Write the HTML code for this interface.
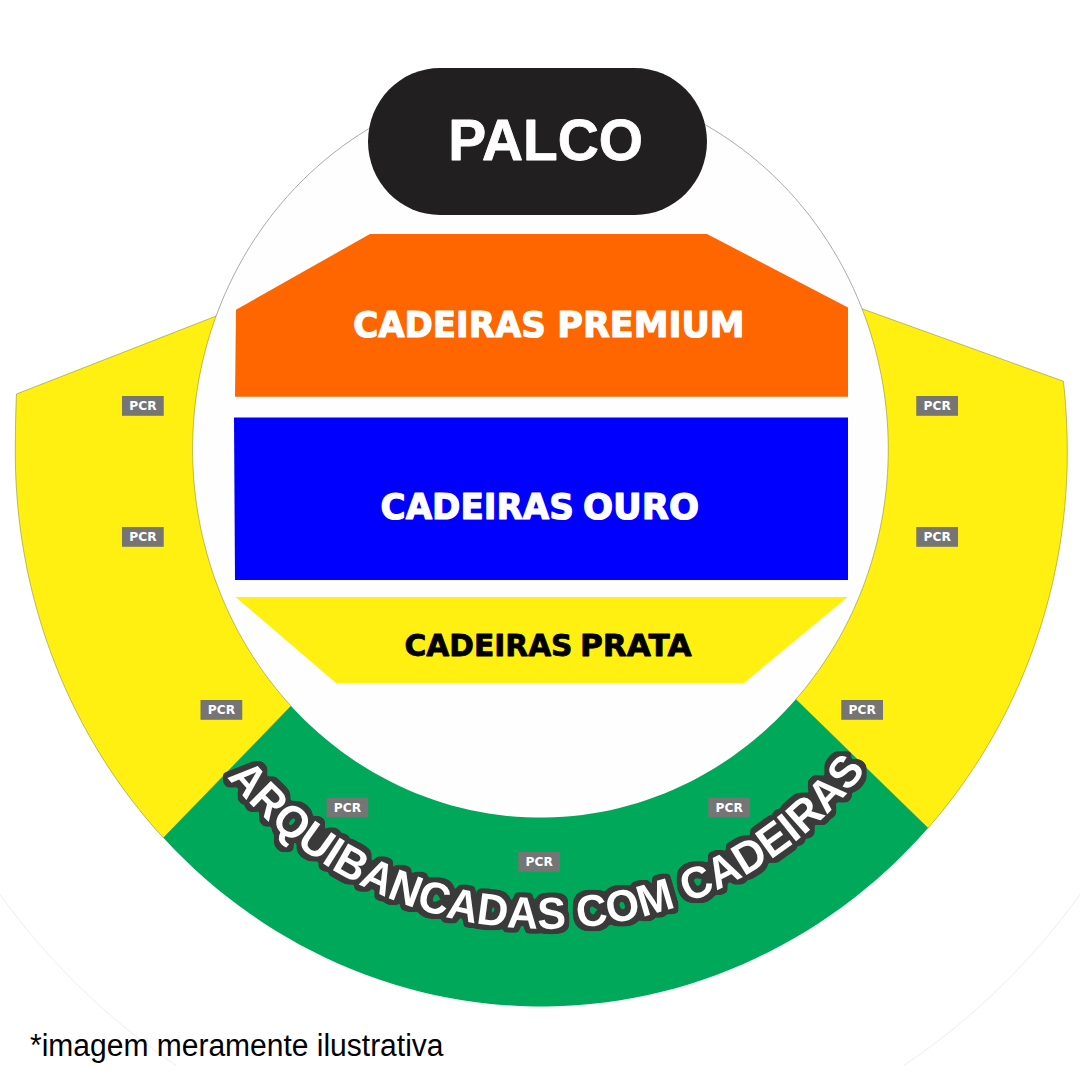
<!DOCTYPE html>
<html lang="pt-BR">
<head>
<meta charset="utf-8">
<title>Mapa de setores</title>
<style>
html,body{margin:0;padding:0;background:#fff;}
body{width:1080px;height:1080px;overflow:hidden;font-family:"Liberation Sans",sans-serif;}
svg{display:block;}
.lbl{font-family:"DejaVu Sans","Liberation Sans",sans-serif;font-weight:bold;}
.lw{fill:#fff;stroke:#fff;stroke-width:1.2px;stroke-linejoin:round;}
.lk{fill:#000;stroke:#000;stroke-width:0.8px;stroke-linejoin:round;}
.pcr{font-family:"DejaVu Sans","Liberation Sans",sans-serif;font-weight:bold;font-size:12.2px;fill:#fff;}
.arc{font-family:"Liberation Sans",sans-serif;font-weight:bold;font-size:44.6px;fill:#fff;filter:url(#ol);}

</style>
</head>
<body>
<svg width="1080" height="1080" viewBox="0 0 1080 1080">
<rect width="1080" height="1080" fill="#ffffff"/>
<path d="M-2.00 891.86 L3.93 900.01 L9.87 907.94 L15.80 915.65 L21.73 923.14 L27.67 930.43 L33.60 937.54 L39.53 944.46 L45.47 951.20 L51.40 957.78 L57.33 964.19 L63.27 970.45 L69.20 976.56 L75.13 982.52 L81.07 988.35 L87.00 994.03 L92.93 999.59 L98.87 1005.01 L104.80 1010.32 L110.73 1015.50 L116.67 1020.56 L122.60 1025.52 L128.53 1030.36 L134.47 1035.09 L140.40 1039.71 L146.33 1044.23 L152.27 1048.66 L158.20 1052.98 L164.13 1057.20 L170.07 1061.33 L176.00 1065.37" fill="none" stroke="#e8e8e8" stroke-width="0.8"/>
<path d="M904.00 1065.37 L909.93 1061.33 L915.87 1057.20 L921.80 1052.98 L927.73 1048.66 L933.67 1044.23 L939.60 1039.71 L945.53 1035.09 L951.47 1030.36 L957.40 1025.52 L963.33 1020.56 L969.27 1015.50 L975.20 1010.32 L981.13 1005.01 L987.07 999.59 L993.00 994.03 L998.93 988.35 L1004.87 982.52 L1010.80 976.56 L1016.73 970.45 L1022.67 964.19 L1028.60 957.78 L1034.53 951.20 L1040.47 944.46 L1046.40 937.54 L1052.33 930.43 L1058.27 923.14 L1064.20 915.65 L1070.13 907.94 L1076.07 900.01 L1082.00 891.86" fill="none" stroke="#e8e8e8" stroke-width="0.8"/>
<ellipse cx="540.44" cy="449.18" rx="347.82" ry="368.45" fill="#fefefe"/>
<path d="M216.12 316.05 L220.00 305.88 L224.17 295.85 L228.62 285.95 L233.34 276.19 L238.34 266.59 L243.60 257.14 L249.12 247.87 L254.91 238.78 L260.94 229.87 L267.23 221.16 L273.76 212.65 L280.52 204.35 L287.51 196.26 L294.73 188.40 L302.16 180.77 L309.81 173.38 L317.66 166.23 L325.70 159.33 L333.94 152.69 L342.36 146.32 L350.95 140.21 L359.72 134.37 L368.64 128.81 L377.72 123.54 L386.94 118.55 L396.29 113.86 L405.77 109.47 L415.38 105.37 L425.09 101.58 L434.90 98.10 L444.81 94.93 L454.81 92.07 L464.88 89.53 L475.01 87.31 L485.21 85.41 L495.45 83.83 L505.73 82.57 L516.05 81.64 L526.38 81.03 L536.73 80.75 L547.08 80.80 L557.42 81.17 L567.75 81.87 L578.06 82.89 L588.33 84.24 L598.56 85.91 L608.74 87.90 L618.86 90.22 L628.91 92.85 L638.88 95.79 L648.76 99.05 L658.55 102.62 L668.23 106.50 L677.80 110.68 L687.25 115.16 L696.57 119.93 L705.75 125.00 L714.78 130.36 L723.66 135.99 L732.37 141.91 L740.92 148.09 L749.29 154.55 L757.47 161.26 L765.47 168.23 L773.26 175.45 L780.84 182.91 L788.22 190.60 L795.37 198.53 L802.30 206.67 L809.00 215.03 L815.45 223.60 L821.67 232.37 L827.63 241.33 L833.35 250.48 L838.80 259.80 L843.99 269.29 L848.90 278.93 L853.55 288.73 L857.92 298.67 L862.01 308.75" fill="none" stroke="#8f9892" stroke-width="0.8"/>
<path d="M16.41 394.02 L15.99 406.51 L15.66 419.01 L15.44 431.52 L15.32 444.03 L15.31 454.99 L15.39 462.69 L15.57 470.39 L15.86 478.09 L16.25 485.78 L16.74 493.47 L17.33 501.15 L18.02 508.81 L18.82 516.47 L19.71 524.12 L20.71 531.75 L21.81 539.36 L23.00 546.96 L24.30 554.54 L25.70 562.11 L27.19 569.65 L28.79 577.16 L30.49 584.66 L32.28 592.12 L34.17 599.56 L36.16 606.98 L38.25 614.36 L40.44 621.71 L42.72 629.03 L45.10 636.31 L47.57 643.56 L50.14 650.77 L52.81 657.95 L55.57 665.08 L58.42 672.17 L61.37 679.22 L64.40 686.23 L67.54 693.19 L70.76 700.10 L74.07 706.97 L77.48 713.79 L80.97 720.56 L84.56 727.27 L88.23 733.93 L91.99 740.54 L95.83 747.09 L99.76 753.59 L103.78 760.02 L107.88 766.40 L112.07 772.72 L116.34 778.97 L120.69 785.17 L125.12 791.29 L129.63 797.35 L134.23 803.35 L138.90 809.28 L143.65 815.14 L148.47 820.92 L153.37 826.64 L158.35 832.29 L163.40 837.86 L291.02 705.98 L286.45 700.91 L281.98 695.75 L277.60 690.50 L273.32 685.16 L269.13 679.74 L265.04 674.23 L261.05 668.64 L257.16 662.97 L253.38 657.23 L249.69 651.41 L246.12 645.52 L242.65 639.56 L239.28 633.52 L236.03 627.42 L232.89 621.26 L229.85 615.04 L226.93 608.75 L224.12 602.41 L221.43 596.01 L218.85 589.56 L216.39 583.06 L214.05 576.50 L211.82 569.91 L209.71 563.27 L207.73 556.59 L205.86 549.87 L204.11 543.11 L202.49 536.32 L200.98 529.50 L199.60 522.64 L198.35 515.77 L197.21 508.86 L196.20 501.94 L195.32 495.00 L194.56 488.04 L193.92 481.07 L193.42 474.08 L193.03 467.09 L192.77 460.09 L192.64 453.08 L192.63 446.08 L192.75 439.07 L193.00 432.07 L193.37 425.08 L193.86 418.09 L194.48 411.12 L195.23 404.15 L196.10 397.21 L197.09 390.28 L198.21 383.38 L199.45 376.50 L200.82 369.64 L202.31 362.82 L203.92 356.02 L205.65 349.26 L207.51 342.54 L209.48 335.85 L211.58 329.21 L213.79 322.60 L216.12 316.05 Z" fill="#fff012" stroke="#7a7a30" stroke-width="0.5"/>
<path d="M1063.45 381.29 L1064.32 389.75 L1065.07 398.22 L1065.71 406.70 L1066.25 415.20 L1066.67 423.70 L1066.99 432.20 L1067.20 440.71 L1067.29 449.22 L1067.28 457.42 L1067.16 465.41 L1066.93 473.40 L1066.58 481.39 L1066.13 489.37 L1065.57 497.34 L1064.91 505.30 L1064.13 513.25 L1063.24 521.19 L1062.25 529.12 L1061.14 537.03 L1059.93 544.92 L1058.61 552.79 L1057.18 560.64 L1055.65 568.47 L1054.00 576.28 L1052.25 584.06 L1050.40 591.81 L1048.44 599.53 L1046.37 607.22 L1044.20 614.88 L1041.92 622.51 L1039.54 630.10 L1037.05 637.65 L1034.47 645.17 L1031.78 652.64 L1028.98 660.07 L1026.09 667.46 L1023.09 674.81 L1020.00 682.11 L1016.80 689.36 L1013.51 696.56 L1010.11 703.71 L1006.62 710.81 L1003.04 717.85 L999.35 724.84 L995.57 731.78 L991.70 738.65 L987.73 745.47 L983.67 752.22 L979.52 758.91 L975.28 765.54 L970.94 772.10 L966.52 778.60 L962.01 785.03 L957.41 791.39 L952.72 797.67 L947.95 803.89 L943.10 810.03 L938.16 816.10 L933.13 822.10 L928.03 828.01 L795.81 699.33 L800.24 694.16 L804.58 688.90 L808.82 683.55 L812.96 678.12 L817.01 672.61 L820.96 667.02 L824.81 661.34 L828.55 655.60 L832.19 649.78 L835.73 643.88 L839.16 637.92 L842.48 631.89 L845.70 625.79 L848.81 619.63 L851.80 613.40 L854.68 607.12 L857.45 600.79 L860.11 594.39 L862.65 587.95 L865.07 581.45 L867.38 574.91 L869.57 568.32 L871.65 561.69 L873.60 555.02 L875.43 548.32 L877.15 541.57 L878.74 534.79 L880.21 527.99 L881.56 521.15 L882.79 514.29 L883.89 507.40 L884.87 500.50 L885.73 493.57 L886.46 486.63 L887.07 479.67 L887.55 472.71 L887.91 465.74 L888.14 458.76 L888.25 451.77 L888.24 444.79 L888.09 437.81 L887.83 430.83 L887.44 423.86 L886.92 416.89 L886.28 409.94 L885.52 403.01 L884.63 396.08 L883.62 389.18 L882.48 382.30 L881.22 375.45 L879.84 368.62 L878.34 361.82 L876.72 355.05 L874.97 348.31 L873.11 341.61 L871.12 334.95 L869.02 328.34 L866.80 321.76 L864.46 315.23 L862.01 308.75 Z" fill="#fff012" stroke="#7a7a30" stroke-width="0.5"/>
<path d="M163.40 837.86 L173.46 848.51 L183.80 858.87 L194.39 868.93 L205.24 878.69 L216.34 888.13 L227.68 897.26 L239.25 906.05 L251.04 914.51 L263.05 922.64 L275.25 930.41 L287.66 937.84 L300.25 944.90 L313.02 951.61 L325.96 957.95 L339.05 963.91 L352.30 969.50 L365.68 974.71 L379.19 979.53 L392.82 983.97 L406.56 988.02 L420.40 991.67 L434.33 994.92 L448.34 997.78 L462.42 1000.23 L476.55 1002.29 L490.73 1003.93 L504.95 1005.18 L519.20 1006.01 L533.46 1006.44 L547.73 1006.46 L561.99 1006.07 L576.24 1005.28 L590.46 1004.08 L604.65 1002.47 L618.79 1000.46 L632.87 998.04 L646.88 995.22 L660.82 992.01 L674.67 988.40 L688.42 984.39 L702.06 979.99 L715.59 975.20 L728.99 970.03 L742.24 964.48 L755.35 958.55 L768.31 952.25 L781.09 945.58 L793.70 938.55 L806.13 931.16 L818.36 923.42 L830.38 915.33 L842.19 906.90 L853.78 898.14 L865.15 889.05 L876.27 879.64 L887.15 869.91 L897.77 859.88 L908.13 849.55 L918.22 838.92 L928.03 828.01 L795.81 699.33 L789.32 706.56 L782.66 713.60 L775.81 720.45 L768.79 727.10 L761.61 733.55 L754.26 739.78 L746.76 745.81 L739.11 751.61 L731.31 757.20 L723.37 762.56 L715.29 767.69 L707.09 772.59 L698.77 777.24 L690.33 781.66 L681.78 785.84 L673.12 789.77 L664.37 793.45 L655.53 796.87 L646.60 800.05 L637.60 802.96 L628.53 805.62 L619.39 808.01 L610.19 810.15 L600.94 812.01 L591.65 813.61 L582.32 814.95 L572.96 816.02 L563.57 816.81 L554.17 817.34 L544.76 817.60 L535.35 817.59 L525.93 817.31 L516.53 816.76 L507.15 815.94 L497.79 814.85 L488.47 813.49 L479.18 811.87 L469.93 809.98 L460.74 807.83 L451.61 805.41 L442.54 802.73 L433.54 799.80 L424.62 796.60 L415.79 793.15 L407.04 789.45 L398.40 785.51 L389.86 781.31 L381.43 776.87 L373.11 772.19 L364.92 767.28 L356.86 762.13 L348.93 756.75 L341.14 751.15 L333.50 745.32 L326.01 739.28 L318.67 733.02 L311.50 726.56 L304.50 719.90 L297.67 713.03 L291.02 705.98 Z" fill="#00a859"/>
<rect x="368" y="68" width="339" height="147" rx="72" ry="73.5" fill="#221f20"/>
<text x="448.3" y="160.3" font-family="Liberation Sans, sans-serif" font-weight="bold" font-size="57.9" fill="#fff" stroke="#fff" stroke-width="0.8" stroke-linejoin="round" textLength="194.8" lengthAdjust="spacingAndGlyphs">PALCO</text>
<path d="M370 234 L707 234 L848 307.5 L848 396.75 L235 396.75 L236 309.7 Z" fill="#ff6600"/>
<text y="336.5" class="lbl lw" font-size="36.2"><tspan x="353.20" textLength="192.70" lengthAdjust="spacingAndGlyphs">CADEIRAS</tspan> <tspan x="557.30" textLength="187.30" lengthAdjust="spacingAndGlyphs">PREMIUM</tspan></text>
<path d="M234 417.5 L848 417.5 L848 580 L235 580 Z" fill="#0000ff"/>
<text y="518.7" class="lbl lw" font-size="36.2"><tspan x="380.60" textLength="193.20" lengthAdjust="spacingAndGlyphs">CADEIRAS</tspan> <tspan x="583.00" textLength="116.20" lengthAdjust="spacingAndGlyphs">OURO</tspan></text>
<path d="M235.6 597 L847.8 597 L743.75 683.25 L336.25 683.25 Z" fill="#fff012"/>
<text y="655.7" class="lbl lk" font-size="30.6"><tspan x="404.50" textLength="168.00" lengthAdjust="spacingAndGlyphs">CADEIRAS</tspan> <tspan x="580.00" textLength="111.50" lengthAdjust="spacingAndGlyphs">PRATA</tspan></text>
<rect x="122" y="396" width="41.75" height="19.8" fill="#757575"/><text x="142.9" y="410.2" class="pcr" text-anchor="middle" textLength="27.2" lengthAdjust="spacingAndGlyphs">PCR</text>
<rect x="122" y="527" width="41.75" height="19.8" fill="#757575"/><text x="142.9" y="541.2" class="pcr" text-anchor="middle" textLength="27.2" lengthAdjust="spacingAndGlyphs">PCR</text>
<rect x="200.5" y="700" width="41.75" height="19.8" fill="#757575"/><text x="221.4" y="714.2" class="pcr" text-anchor="middle" textLength="27.2" lengthAdjust="spacingAndGlyphs">PCR</text>
<rect x="326.5" y="797.5" width="41.75" height="19.8" fill="#757575"/><text x="347.4" y="811.7" class="pcr" text-anchor="middle" textLength="27.2" lengthAdjust="spacingAndGlyphs">PCR</text>
<rect x="518.25" y="852" width="41.75" height="19.8" fill="#757575"/><text x="539.15" y="866.2" class="pcr" text-anchor="middle" textLength="27.2" lengthAdjust="spacingAndGlyphs">PCR</text>
<rect x="708.25" y="797.5" width="41.75" height="19.8" fill="#757575"/><text x="729.15" y="811.7" class="pcr" text-anchor="middle" textLength="27.2" lengthAdjust="spacingAndGlyphs">PCR</text>
<rect x="841.25" y="700" width="41.75" height="19.8" fill="#757575"/><text x="862.15" y="714.2" class="pcr" text-anchor="middle" textLength="27.2" lengthAdjust="spacingAndGlyphs">PCR</text>
<rect x="916.25" y="396" width="41.75" height="19.8" fill="#757575"/><text x="937.15" y="410.2" class="pcr" text-anchor="middle" textLength="27.2" lengthAdjust="spacingAndGlyphs">PCR</text>
<rect x="916.25" y="527" width="41.75" height="19.8" fill="#757575"/><text x="937.15" y="541.2" class="pcr" text-anchor="middle" textLength="27.2" lengthAdjust="spacingAndGlyphs">PCR</text>

<defs><filter id="ol" filterUnits="userSpaceOnUse" x="180" y="720" width="720" height="260" color-interpolation-filters="sRGB">
<feMorphology in="SourceAlpha" operator="dilate" radius="4" result="d"/>
<feGaussianBlur in="d" stdDeviation="1.6" result="b"/>
<feComponentTransfer in="b" result="t"><feFuncA type="linear" slope="6" intercept="-1.2"/></feComponentTransfer>
<feFlood flood-color="#3a3a3a" result="c"/>
<feComposite in="c" in2="t" operator="in" result="o"/>
<feMerge><feMergeNode in="o"/><feMergeNode in="SourceGraphic"/></feMerge>
</filter></defs>
<path id="arcp" d="M 161.82 661.27 A 406.60 406.60 0 0 0 925.98 661.27" fill="none"/>
<text class="arc"><textPath href="#arcp" startOffset="133.49" textLength="735" lengthAdjust="spacingAndGlyphs">ARQUIBANCADAS COM CADEIRAS</textPath></text>
<text x="30" y="1056" font-family="Liberation Sans, sans-serif" font-size="30.8" fill="#000" textLength="413.5" lengthAdjust="spacingAndGlyphs">*imagem meramente ilustrativa</text>
</svg>
</body>
</html>
